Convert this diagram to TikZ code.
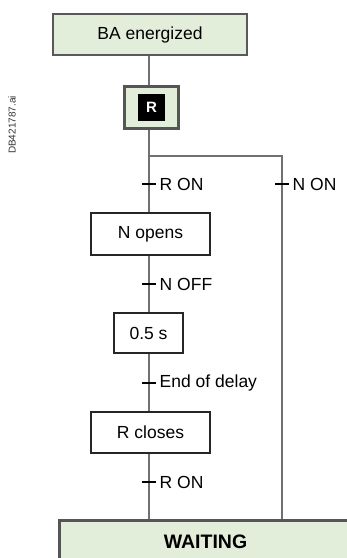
\documentclass[tikz,border=0pt]{standalone}
\usepackage{fontspec}
\setmainfont{Liberation Sans}
\usetikzlibrary{positioning,backgrounds}
\definecolor{boxgreen}{HTML}{E2EDDA}
\definecolor{linegray}{HTML}{707070}
\definecolor{framegray}{HTML}{555555}

\tikzset{
  stepbox/.style={draw=black!85,line width=2pt,fill=white,inner sep=0pt},
  initbox/.style={draw=framegray,line width=3pt,fill=boxgreen,inner sep=0pt},
  wire/.style={draw=linegray,line width=1.5pt},
  trans/.style={fill=black,minimum width=14pt,minimum height=2pt,inner sep=0pt,
    label distance=4pt},
}

\begin{document}
\begin{tikzpicture}[x=1pt,y=-1pt,every node/.style={font=\fontsize{17.5}{20}\selectfont}]
\useasboundingbox (0,0) rectangle (347,558);
% steps
\node[draw=black!65,line width=2pt,fill=boxgreen,minimum width=194pt,minimum height=41pt] (BA) at (150,34.5) {BA energized};
\node[initbox,minimum width=54pt,minimum height=42pt] (R) at (151.5,107.5) {};
\node[fill=black,text=white,minimum size=27pt,inner sep=0pt,font=\fontsize{15}{17}\selectfont\bfseries] (Rsign) at (R) {R};
\node[stepbox,minimum width=119pt,minimum height=42pt] (Nopen) at (150.5,234) {N opens};
\node[stepbox,minimum width=69pt,minimum height=40pt] (delay) at (148.5,333) {0.5 s};
\node[stepbox,minimum width=119pt,minimum height=41pt] (Rclose) at (150.5,432.5) {R closes};
\node[initbox,minimum width=293pt,minimum height=42pt,font=\fontsize{19.5}{22}\selectfont\bfseries] (wait) at (205.5,541.5) {WAITING};
% transitions
\node[trans,label=right:R ON] (t1) at (149,184) {};
\node[trans,label=right:N OFF] (t2) at (149,284) {};
\node[trans,label=right:End of delay] (t3) at (149,383) {};
\node[trans,label=right:R ON] (t4) at (149,482) {};
\node[trans,label=right:N ON] (t5) at (282,184) {};
\coordinate (split) at (149,156);
% links
\begin{scope}[on background layer]
\draw[wire] (BA.south -| split) -- (R.north -| split);
\draw[wire] (R.south -| split) -- (Nopen.north -| split);
\draw[wire] (split) -| (t5) -- (wait.north -| t5);
\draw[wire] (Nopen.south -| split) -- (delay.north -| split);
\draw[wire] (delay.south -| split) -- (Rclose.north -| split);
\draw[wire] (Rclose.south -| split) -- (wait.north -| split);
\end{scope}
\node[rotate=90,font=\fontsize{10}{12}\selectfont,text=black!80] (ref) at (12,125) {DB421787.ai};
\end{tikzpicture}
\end{document}
